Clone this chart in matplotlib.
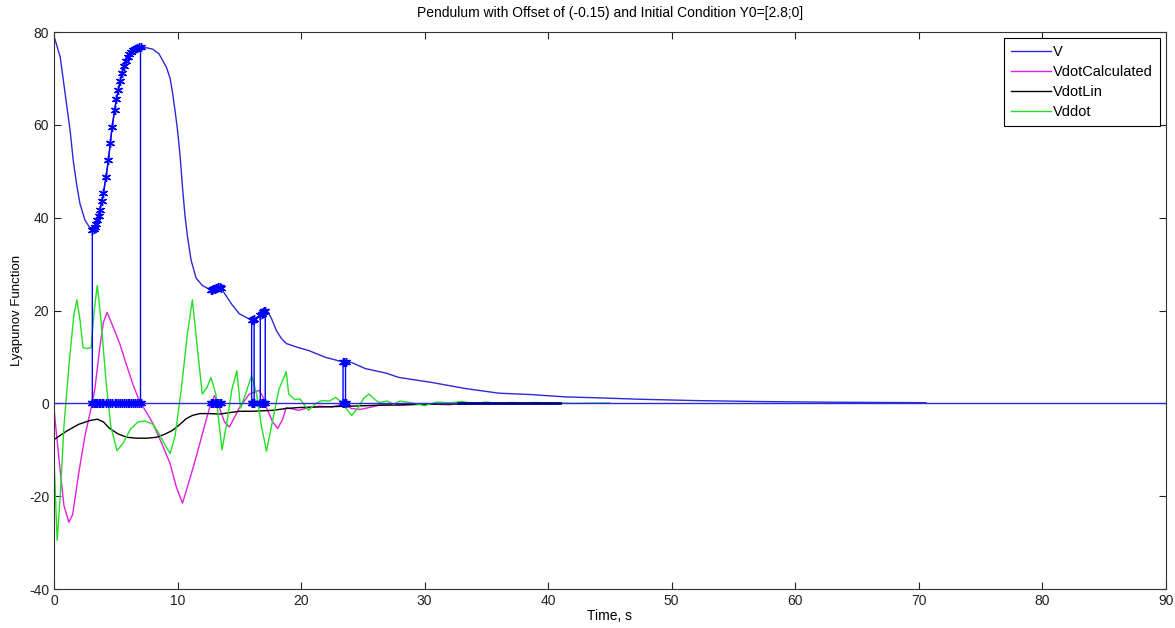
import numpy as np
import matplotlib
matplotlib.use('Agg')
from matplotlib import pyplot as plt

plt.rcParams['font.family'] = ['Liberation Sans', 'DejaVu Sans']
plt.rcParams['axes.unicode_minus'] = False

# V (Lyapunov function)
v_t = [0, 0.1, 0.5, 1.0, 1.3, 1.55, 1.85, 2.1, 2.5, 2.9, 3.1, 3.2, 3.3, 3.4, 3.5, 3.6, 3.7, 3.85,
       4.0, 4.2, 4.4, 4.55, 4.7, 4.9, 5.05, 5.2, 5.35, 5.5, 5.65, 5.8, 5.95, 6.1, 6.25, 6.4,
       6.55, 6.7, 6.85, 7.0, 7.5, 8.0, 8.5, 9.1, 9.4, 9.6, 9.8, 10.0, 10.2, 10.4, 10.6, 10.8,
       11.1, 11.5, 12.0, 12.7, 13.0, 13.3, 13.5, 13.8, 14.4, 15.0, 15.5, 16.0, 16.2, 16.4,
       16.7, 17.0, 17.3, 17.6, 18.0, 18.4, 18.8, 19.8, 20.6, 22.0, 23.3, 23.6, 24.1, 25.2,
       26.9, 27.9, 30.6, 33.3, 36.0, 38.6, 41.4, 44.0, 47.3, 52.0, 57.0, 63.0, 70.6]
v_val = [79.1, 78.2, 74.6, 64.7, 58.8, 52.4, 46.8, 43.0, 39.5, 37.8, 37.4, 37.5, 37.9, 38.6,
         39.4, 40.4, 41.6, 43.5, 45.3, 48.7, 52.4, 56.0, 59.5, 63.1, 65.5, 67.5, 69.5, 71.2,
         72.6, 73.8, 74.6, 75.3, 75.8, 76.2, 76.4, 76.6, 76.7, 76.7, 76.6, 76.3, 75.3, 72.4,
         70.0, 66.8, 63.0, 58.8, 53.5, 46.5, 40.5, 36.0, 30.8, 27.0, 25.4, 24.4, 24.7, 25.0,
         24.9, 23.7, 21.3, 19.3, 18.6, 17.9, 18.1, 18.5, 19.0, 19.8, 19.8, 18.3, 15.7, 14.0,
         12.9, 12.0, 11.4, 9.9, 9.0, 8.9, 8.8, 7.5, 6.5, 5.6, 4.5, 3.2, 2.2, 1.9, 1.4, 1.2,
         0.9, 0.6, 0.4, 0.25, 0.15]

# VdotCalculated
vc_t = [0, 0.1, 0.4, 0.8, 1.2, 1.5, 2.0, 2.5, 3.0, 3.3, 3.7, 4.0, 4.3, 4.7, 5.3, 5.9, 6.4, 6.9,
        7.5, 8.0, 8.7, 9.4, 9.9, 10.4, 10.8, 11.5, 12.3, 12.7, 13.0, 13.4, 13.8, 14.2, 15.0,
        15.8, 16.3, 16.6, 16.9, 17.2, 17.7, 18.1, 18.5, 18.8, 19.3, 19.8, 20.6, 21.5, 22.5,
        23.3, 24.1, 24.8, 25.5, 26.5, 28.0, 30.0, 32.0, 33.0]
vc_val = [-1, -4, -12, -22, -25.6, -24, -15, -7, -1, 3, 12, 17.5, 19.6, 17, 13, 8, 4, 0.6,
          -2, -4.3, -8.5, -13, -18, -21.5, -18, -11.6, -3.7, 0, 1.7, -1, -4, -5.1, -1,
          2, 2.5, 2.8, 1.5, -0.9, -4, -5.4, -3.5, -0.9, -1.2, -1.5, -0.9, -0.6, -0.8,
          -0.2, -1.1, -1.3, -0.9, -0.3, -0.4, -0.1, -0.3, 0]

# VdotLin
vl_t = [0, 1, 2, 2.9, 3.5, 4.0, 4.5, 5.2, 5.9, 6.7, 7.5, 8.3, 9.0, 9.6, 10.2, 10.7, 11.2, 11.8,
        12.6, 13.4, 14.2, 15.0, 16.0, 17.7, 18.8, 19.8, 21.0, 22.5, 24.0, 26.3, 28.0, 30.0,
        33.0, 36.0, 40.0]
vl_val = [-7.8, -6, -4.5, -3.7, -3.4, -4, -5.4, -6.6, -7.3, -7.5, -7.5, -7.3, -6.6, -5.8, -4.5,
          -3.3, -2.6, -2.2, -2.2, -2.3, -2.0, -1.7, -1.7, -1.5, -1.1, -0.9, -0.8, -0.7, -0.6,
          -0.4, -0.3, -0.2, -0.1, -0.05, 0]

# Vddot
vd_t = [0, 0.25, 0.5, 0.8, 1.2, 1.6, 1.85, 2.1, 2.35, 2.7, 3.0, 3.25, 3.5, 3.8, 4.2, 4.6, 5.1,
        5.6, 6.2, 6.8, 7.4, 8.0, 8.5, 9.0, 9.4, 9.8, 10.3, 10.8, 11.2, 11.6, 12.0, 12.4, 12.7,
        13.1, 13.6, 14.0, 14.4, 14.8, 15.1, 15.5, 16.0, 16.4, 16.8, 17.2, 17.6, 18.2, 18.8,
        19.0, 19.5, 19.9, 20.6, 21.2, 21.7, 22.3, 22.8, 23.3, 23.6, 24.1, 24.6, 25.1, 25.5,
        26.0, 26.3, 27.0, 27.5, 28.0, 29.0, 30.0, 31.0, 32.0, 33.0, 34.0, 35.0, 36.0, 37.0,
        38.0, 39.0, 40.0, 41.0, 42.0, 45.0]
vd_val = [-12, -29.5, -20, -5, 8, 19, 22.3, 18, 12, 11.8, 12, 20, 25.4, 18, 5, -5, -10.2,
          -8.5, -5.5, -4, -3.8, -4.5, -6.5, -9, -10.8, -7, 3, 15, 22.3, 12, 2, 3.5, 5.6,
          2, -10, -4, 3, 7, -1, 2, 6, 2, -5, -10.3, -5, 3, 6.8, 2, 0.8, 1, -1.5, 0, 0.6,
          0.5, 1.3, 0.2, -0.9, -2.6, -1, 1.2, 2, 0.8, 0.2, 0.5, -0.2, 0.5, 0.1, -0.5, 0.3,
          0.1, 0.4, 0, 0.3, 0, 0.2, 0.1, 0.2, 0, 0.1, 0, 0.1]

# times where V is marked (stars), with V at those times
mark1_t = [3.1, 3.2, 3.3, 3.4, 3.5, 3.6, 3.7, 3.85, 4.0, 4.2, 4.4, 4.55, 4.7, 4.9, 5.05, 5.2,
           5.35, 5.5, 5.65, 5.8, 5.95, 6.1, 6.25, 6.4, 6.55, 6.7, 6.85, 7.0]
mark1_v = [37.4, 37.5, 37.9, 38.6, 39.4, 40.4, 41.6, 43.5, 45.3, 48.7, 52.4, 56.0, 59.5, 63.1,
           65.5, 67.5, 69.5, 71.2, 72.6, 73.8, 74.6, 75.3, 75.8, 76.2, 76.4, 76.6, 76.7, 76.7]
mark2_t = [12.7, 12.8, 12.9, 13.0, 13.1, 13.2, 13.3, 13.4, 13.5]
mark2_v = [24.4, 24.5, 24.6, 24.7, 24.8, 24.9, 25.0, 25.0, 24.9]
mark3_t = [16.0, 16.1, 16.2]
mark3_v = [17.9, 18.0, 18.1]
mark4_t = [16.7, 16.8, 16.9, 17.0, 17.1]
mark4_v = [19.0, 19.3, 19.6, 19.8, 19.8]
mark5_t = [23.4, 23.5, 23.6]
mark5_v = [9.0, 9.0, 8.9]
flat_t = [32.7, 41.0]

star = (6, 2, 0)
blue = '#0000ff'

fig = plt.figure(figsize=(11.75, 6.28), dpi=100)
ax = fig.add_axes([0.046, 0.062, 0.946, 0.887])

ax.plot(v_t, v_val, color='#2a2ad8', lw=1, label='V')
ax.plot(vc_t, vc_val, color='#e020e0', lw=1, label='VdotCalculated')
ax.plot(vl_t, vl_val, color='black', lw=1, label='VdotLin')
ax.plot(vd_t, vd_val, color='#22e022', lw=1, label='Vddot')

ax.axhline(0, color='#2a2ad8', lw=1)

# closed boxes: stars along zero and along V with vertical edges
for mt, mv in [(mark1_t, mark1_v), (mark3_t, mark3_v), (mark4_t, mark4_v), (mark5_t, mark5_v)]:
    xs = list(mt) + list(mt[::-1]) + [mt[0]]
    ys = [0] * len(mt) + list(mv[::-1]) + [0]
    ax.plot(xs, ys, color=blue, lw=1, marker=star, ms=6.5, mew=1)
# stars without vertical edges
ax.plot(mark2_t, mark2_v, color=blue, lw=1, marker=star, ms=6.5, mew=1)
ax.plot(mark2_t, [0] * len(mark2_t), color=blue, lw=1, marker=star, ms=6.5, mew=1)
ax.plot(flat_t, [0, 0], color='#000090', lw=2)

ax.set_xlim(0, 90)
ax.set_ylim(-40, 80)
ax.set_xticks(range(0, 91, 10))
ax.set_yticks(range(-40, 81, 20))
ax.tick_params(direction='in', top=True, right=True, labelsize=10, length=5, colors='#222222')
for s in ax.spines.values():
    s.set_color('#333333')

ax.set_title('Pendulum with Offset of (-0.15) and Initial Condition Y0=[2.8;0]', fontsize=10, pad=11)
ax.set_xlabel('Time, s', fontsize=10, labelpad=1)
ax.set_ylabel('Lyapunov Function', fontsize=9.5, labelpad=4)

leg = ax.legend(loc='upper right', fontsize=10.5, fancybox=False, edgecolor='black',
                framealpha=1, handlelength=2.75, borderaxespad=0.4, labelspacing=0.4,
                handletextpad=0.1, borderpad=0.5)
leg.get_frame().set_linewidth(0.8)

fig.savefig('out.png', dpi=100)
